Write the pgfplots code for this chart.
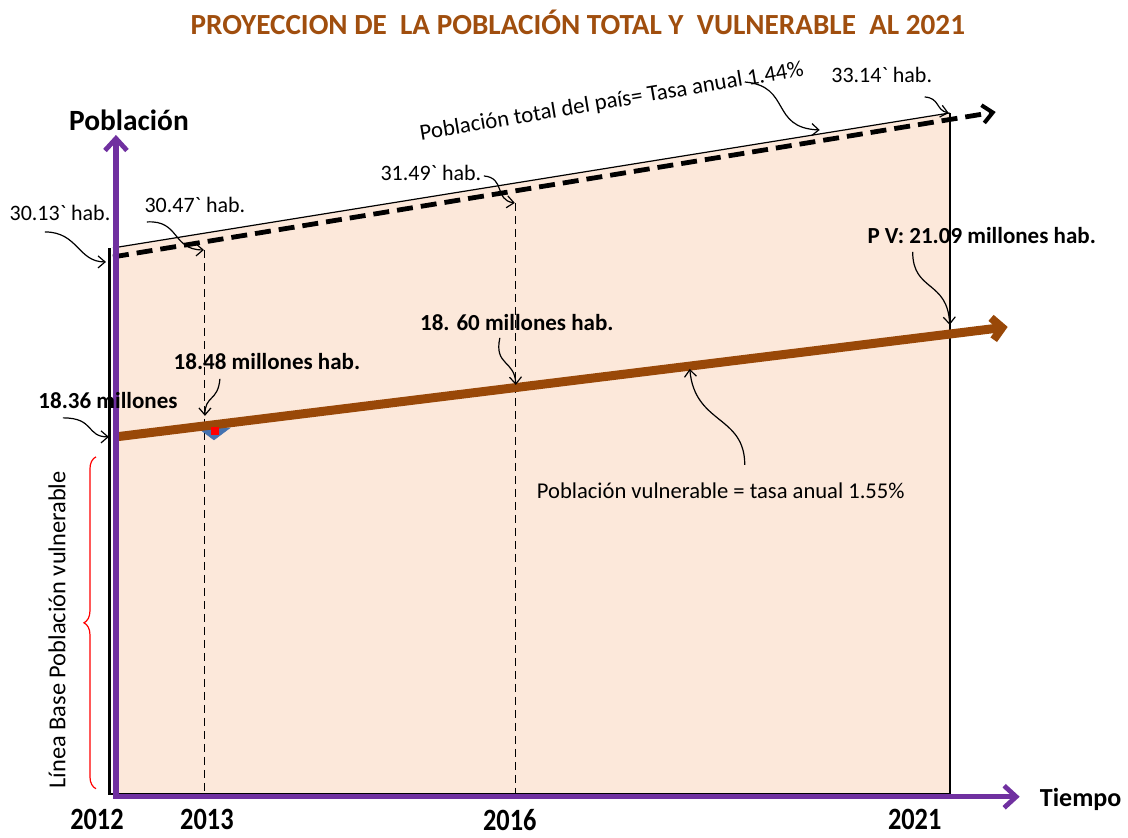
\documentclass[border=0pt]{standalone}
\usepackage{pgfplots}
\pgfplotsset{compat=1.18}
\usepackage{fontspec}
\setmainfont{Carlito}
\usetikzlibrary{arrows.meta,decorations.pathreplacing}
\definecolor{peach}{RGB}{252,232,218}
\definecolor{brownline}{RGB}{153,72,8}
\definecolor{titlecol}{RGB}{160,78,14}
\definecolor{purp}{RGB}{112,48,160}
\definecolor{triblue}{RGB}{68,114,176}
\begin{document}
\begin{tikzpicture}
\begin{axis}[width=564pt,height=418pt,scale only axis,
  xmin=0,xmax=1128,ymin=0,ymax=836,y dir=reverse,
  hide axis,clip=false]
% background to fix bounding box
\addplot[draw=none,fill=white] coordinates {(0,0)(1128,0)(1128,836)(0,836)} --cycle;
% shaded area
\addplot[draw=none,fill=peach] coordinates {(113,248)(950,113)(950,795)(113,795)} --cycle;
% borders
\addplot[black,line width=0.6pt] coordinates {(113,248)(950,113)};
\addplot[black,line width=0.9pt] coordinates {(950,113)(950,795)};
\addplot[black,line width=0.9pt] coordinates {(110,794)(950,794)};
\addplot[black,line width=1.5pt] coordinates {(110,248)(110,795)};
% vertical dashed guides
\addplot[black,line width=0.5pt,dash pattern=on 4pt off 2.5pt] coordinates {(205,250)(205,794)};
\addplot[black,line width=0.5pt,dash pattern=on 4pt off 2.5pt] coordinates {(516,203)(516,794)};
% total population (dashed)
\addplot[black,line width=2.4pt,dash pattern=on 8pt off 4pt,
  -{Straight Barb[length=5pt,width=9pt,line width=2pt]}] coordinates {(113,257)(996,112)};
% little marker (under the line)
\addplot[triblue,fill=triblue,line width=0.3pt] coordinates {(198,428)(230,428)(214,440)(198,428)} --cycle;
% vulnerable population
\addplot[brownline,line width=4.5pt,
  -{Straight Barb[length=5pt,width=11pt,line width=4pt]}] coordinates {(116,437)(1008,327)};
\addplot[only marks,mark=square*,mark size=1.8pt,red] coordinates {(215,431)};
% purple axes
\addplot[purp,line width=2.6pt,
  -{Straight Barb[length=6pt,width=11pt,line width=2.4pt]}] coordinates {(116,797)(116,135)};
\addplot[purp,line width=2.6pt,
  -{Straight Barb[length=6pt,width=11pt,line width=2.4pt]}] coordinates {(113,797)(1020,797)};

% red brace
\draw[red,line width=0.6pt,decorate,decoration={brace,amplitude=6pt}]
  (axis cs:96,789) -- (axis cs:96,457);

% annotation arrows
\tikzset{ann/.style={black,line width=0.6pt,-{Straight Barb[length=3.5pt,width=6pt]}}}
\draw[ann] (axis cs:45,232) .. controls (axis cs:78,232) and (axis cs:78,262) .. (axis cs:106,262);
\draw[ann] (axis cs:147,222) .. controls (axis cs:180,220) and (axis cs:172,250) .. (axis cs:204,250);
\draw[ann] (axis cs:484,176) .. controls (axis cs:506,178) and (axis cs:494,200) .. (axis cs:515,203);
\draw[ann] (axis cs:745,82) .. controls (axis cs:792,86) and (axis cs:770,128) .. (axis cs:820,130);
\draw[ann] (axis cs:925,97) .. controls (axis cs:940,98) and (axis cs:936,110) .. (axis cs:949,113);
\draw[ann] (axis cs:913,252) .. controls (axis cs:913,292) and (axis cs:948,280) .. (axis cs:950,325);
\draw[ann] (axis cs:500,338) .. controls (axis cs:494,366) and (axis cs:515,360) .. (axis cs:516,385);
\draw[ann] (axis cs:220,379) .. controls (axis cs:218,402) and (axis cs:205,395) .. (axis cs:205,416);
\draw[ann] (axis cs:63,418) .. controls (axis cs:95,418) and (axis cs:86,437) .. (axis cs:109,437);
\draw[ann] (axis cs:745,465) .. controls (axis cs:745,415) and (axis cs:695,425) .. (axis cs:690,369);

% texts
\node[font=\fontsize{14.6}{16}\selectfont\bfseries,text=titlecol] at (axis cs:578,22)
  {PROYECCION DE\ \ LA POBLACIÓN TOTAL Y\ \ VULNERABLE\ \ AL 2021};
\node[font=\fontsize{14.7}{16}\selectfont\bfseries] at (axis cs:129,120) {Población};
\node[font=\fontsize{13}{15}\selectfont\bfseries] at (axis cs:1081,800) {Tiempo};
\tikzset{yr/.style={font=\fontsize{15.5}{17}\selectfont\bfseries,xscale=0.85}}
\node[yr] at (axis cs:97,820) {2012};
\node[yr] at (axis cs:207,820) {2013};
\node[yr] at (axis cs:510,820) {2016};
\node[yr] at (axis cs:915,820) {2021};
\tikzset{nt/.style={font=\fontsize{11}{12}\selectfont}}
\node[nt] at (axis cs:60,213) {30.13\textasciigrave{} hab.};
\node[nt] at (axis cs:195,205) {30.47\textasciigrave{} hab.};
\node[nt] at (axis cs:431,173) {31.49\textasciigrave{} hab.};
\node[nt] at (axis cs:882,75) {33.14\textasciigrave{} hab.};
\node[font=\fontsize{11.4}{12}\selectfont,rotate=9.5] at (axis cs:612,102) {Población total del país= Tasa anual 1.44\%};
\node[font=\fontsize{11.3}{12}\selectfont] at (axis cs:721,491) {Población vulnerable = tasa anual 1.55\%};
\tikzset{bt/.style={font=\fontsize{11.5}{13}\selectfont\bfseries}}
\node[bt] at (axis cs:982,236) {P V: 21.09 millones hab.};
\node[bt] at (axis cs:517,323) {18. 60 millones hab.};
\node[bt] at (axis cs:267,362) {18.48 millones hab.};
\node[bt] at (axis cs:108,401) {18.36 millones};
\node[font=\fontsize{12.2}{13}\selectfont,rotate=90] at (axis cs:57,630) {Línea Base Población vulnerable};
\end{axis}
\end{tikzpicture}
\end{document}
